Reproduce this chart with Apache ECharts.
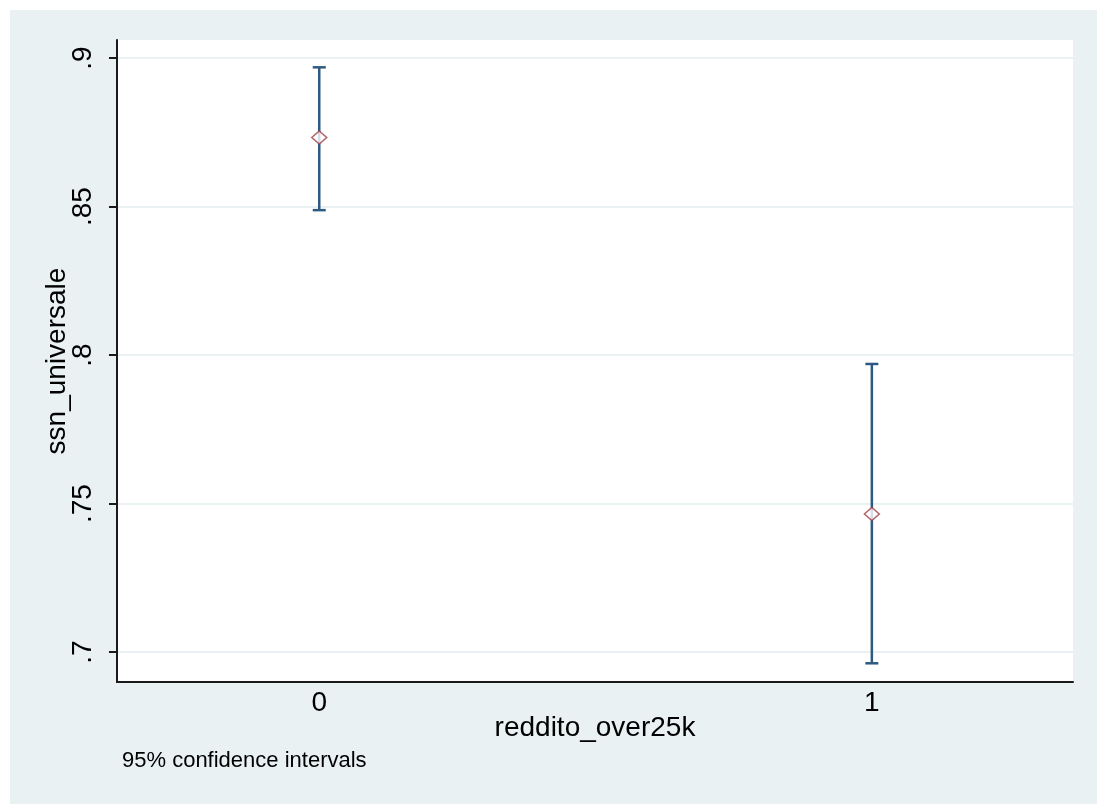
<!DOCTYPE html>
<html>
<head>
<meta charset="utf-8">
<script src="https://cdn.jsdelivr.net/npm/echarts@6/dist/echarts.min.js"></script>
<style>
html,body{margin:0;padding:0;background:#ffffff;}
#chart{width:1097px;height:804px;}
</style>
</head>
<body>
<div id="chart"></div>
<script>
// Data
const categories = [0, 1];
const means = [0.8733, 0.7465];
const lowerCI = [0.8488, 0.6962];
const upperCI = [0.8969, 0.7970];
const yTicks = [0.7, 0.75, 0.8, 0.85, 0.9];
const xTicks = [0, 1];

const navy = '#2d5a80';
const maroon = '#a0424a';
const bg = '#e9f1f3';
const font = '"Liberation Sans", Arial, sans-serif';

const ciData = categories.map((c, i) => [c, lowerCI[i], upperCI[i]]);
const meanData = categories.map((c, i) => [c, means[i]]);

const chart = echarts.init(document.getElementById('chart'), null, {renderer: 'canvas'});
chart.setOption({
  backgroundColor: '#ffffff',
  animation: false,
  graphic: [
    {type: 'rect', z: -10, silent: true, shape: {x: 10, y: 10, width: 1087, height: 794}, style: {fill: bg}},
    {type: 'text', left: 122, top: 750, style: {text: '95% confidence intervals', fontSize: 22, fontFamily: font, fill: '#000'}}
  ],
  grid: {left: 117, top: 40, right: 24, bottom: 122, show: true, backgroundColor: '#ffffff', borderWidth: 0, containLabel: false},
  xAxis: {
    type: 'value', min: -0.366, max: 1.364,
    name: 'reddito_over25k', nameLocation: 'middle', nameGap: 32, nameMoveOverlap: false,
    nameTextStyle: {fontSize: 28, fontFamily: font, color: '#000'},
    axisLine: {show: true, onZero: false, lineStyle: {color: '#1a1a1a', width: 2}},
    axisTick: {show: false, customValues: xTicks},
    axisLabel: {customValues: xTicks, fontSize: 28, fontFamily: font, color: '#000', margin: 7, formatter: v => String(v)},
    splitLine: {show: false}
  },
  yAxis: {
    type: 'value', min: 0.6899, max: 0.9061,
    name: 'ssn_universale', nameLocation: 'middle', nameGap: 46, nameMoveOverlap: false,
    nameTextStyle: {fontSize: 28, fontFamily: font, color: '#000'},
    axisLine: {show: true, onZero: false, lineStyle: {color: '#1a1a1a', width: 2}},
    axisTick: {show: true, length: 8, customValues: yTicks, lineStyle: {color: '#1a1a1a', width: 2}},
    axisLabel: {customValues: yTicks, rotate: 90, fontSize: 28, fontFamily: font, color: '#000', margin: 20,
      formatter: v => String(parseFloat(v.toFixed(2))).replace(/^0\./, '.')},
    splitLine: {show: true, lineStyle: {color: '#e9f1f3', width: 2}}
  },
  series: [
    {
      type: 'custom',
      data: ciData,
      z: 2,
      renderItem: function (params, api) {
        const x = api.value(0);
        const lo = api.coord([x, api.value(1)]);
        const hi = api.coord([x, api.value(2)]);
        const w = 6.5;
        const style = {stroke: navy, lineWidth: 2.5, fill: null};
        return {
          type: 'group',
          children: [
            {type: 'line', shape: {x1: lo[0], y1: lo[1], x2: hi[0], y2: hi[1]}, style: style},
            {type: 'line', shape: {x1: lo[0] - w, y1: lo[1], x2: lo[0] + w, y2: lo[1]}, style: style},
            {type: 'line', shape: {x1: hi[0] - w, y1: hi[1], x2: hi[0] + w, y2: hi[1]}, style: style}
          ]
        };
      }
    },
    {
      type: 'scatter',
      data: meanData,
      z: 3,
      symbol: 'diamond',
      symbolSize: [15, 13],
      itemStyle: {color: '#ffffff', borderColor: maroon, borderWidth: 1.5}
    }
  ]
});
</script>
</body>
</html>
